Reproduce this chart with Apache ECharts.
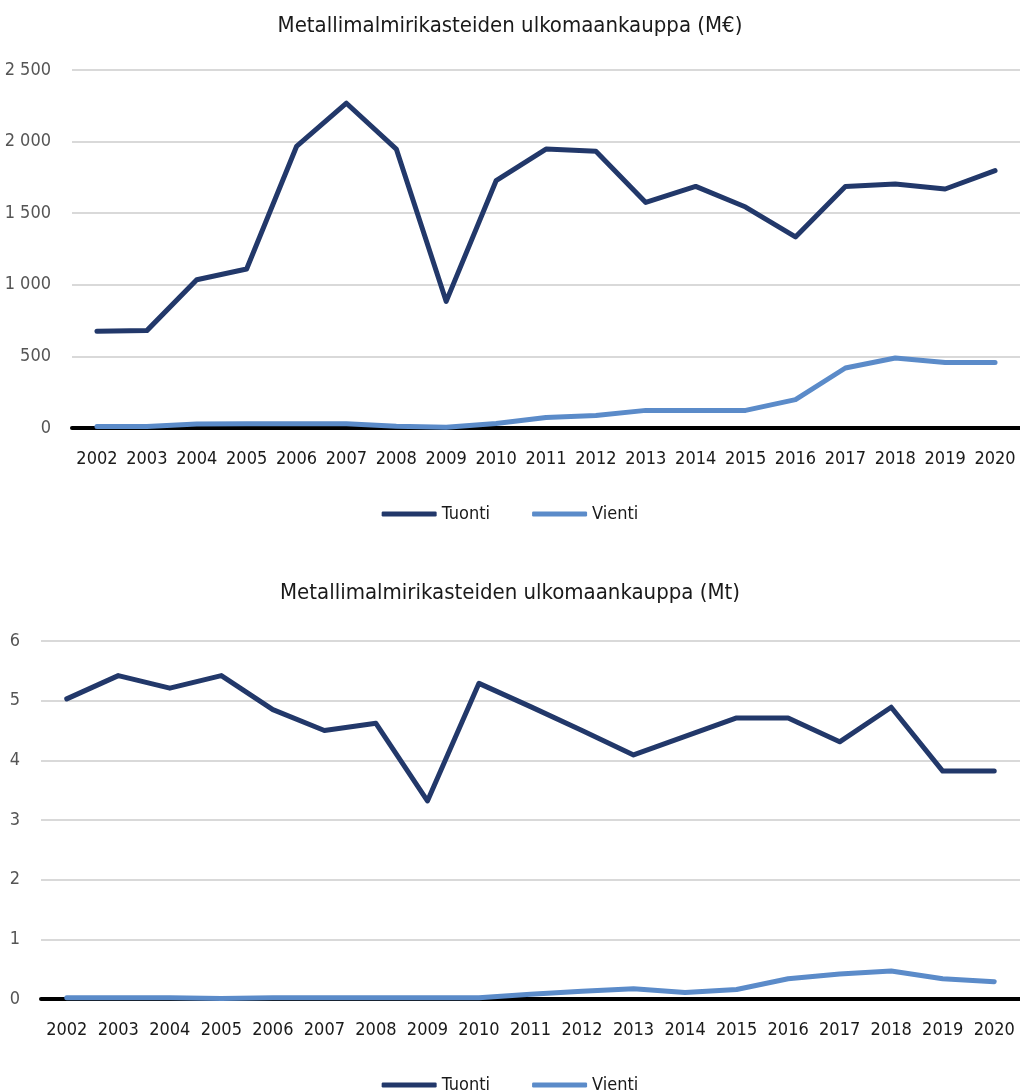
<!DOCTYPE html>
<html>
<head>
<meta charset="utf-8">
<script src="https://cdn.jsdelivr.net/npm/echarts@6/dist/echarts.min.js"></script>
<style>
  html, body { margin: 0; padding: 0; background: #fff; }
  #chart { width: 1020px; height: 1092px; }
</style>
</head>
<body>
<div id="chart"></div>
<script>
// vuodet
const years = ["2002","2003","2004","2005","2006","2007","2008","2009","2010","2011","2012","2013","2014","2015","2016","2017","2018","2019","2020"]

// M€
const tuontiEur = [675, 680, 1035, 1110, 1966, 2268, 1948, 884, 1727, 1948, 1932, 1575, 1687, 1543, 1334, 1687, 1704, 1669, 1797]
const vientiEur = [10, 10, 28, 30, 30, 30, 12, 5, 32, 74, 88, 123, 123, 123, 198, 419, 489, 458, 458]

// Mt
const tuontiMt = [5.03, 5.42, 5.21, 5.42, 4.85, 4.5, 4.62, 3.32, 5.29, 4.9, 4.5, 4.09, 4.4, 4.71, 4.71, 4.31, 4.89, 3.82, 3.82]
const vientiMt = [0.02, 0.02, 0.02, 0.01, 0.02, 0.02, 0.02, 0.02, 0.02, 0.08, 0.13, 0.17, 0.11, 0.16, 0.34, 0.42, 0.47, 0.34, 0.29]

const font = "'DejaVu Sans Condensed', 'Liberation Sans Narrow', sans-serif"
const navy = "#22386a"
const light = "#5b8bc9"

const myChart = echarts.init(document.getElementById("chart"))

function xAxisFor(gridIndex) {
  return {
    type: "category",
    gridIndex: gridIndex,
    data: years,
    boundaryGap: true,
    axisLine: { lineStyle: { color: "#000", width: 4 } },
    axisTick: { show: false },
    axisLabel: { color: "#1a1a1a", fontSize: 18, fontFamily: font, margin: 22, interval: 0 },
  }
}

function yAxisFor(gridIndex, max, interval, fmt) {
  return {
    type: "value",
    gridIndex: gridIndex,
    min: 0,
    max: max,
    interval: interval,
    axisLine: { show: false },
    axisTick: { show: false },
    splitLine: { lineStyle: { color: "#d9d9d9", width: 2 } },
    axisLabel: { color: "#555", fontSize: 18, fontFamily: font, margin: 21, formatter: fmt },
  }
}

function lineSeries(name, data, color, idx) {
  return {
    name: name,
    type: "line",
    data: data,
    xAxisIndex: idx,
    yAxisIndex: idx,
    symbol: "none",
    smooth: false,
    lineStyle: { color: color, width: 5, cap: "round", join: "round" },
    itemStyle: { color: color },
  }
}

const legendBase = {
  data: ["Tuonti", "Vienti"],
  icon: "roundRect",
  itemWidth: 55,
  itemHeight: 5,
  itemGap: 42,
  textStyle: { color: "#1a1a1a", fontSize: 18, fontFamily: font },
}

const option = {
  backgroundColor: "#fff",
  animation: false,
  title: [
    {
      text: "Metallimalmirikasteiden ulkomaankauppa (M€)",
      left: "center",
      top: 10,
      textStyle: { color: "#1a1a1a", fontSize: 22, fontWeight: "normal", fontFamily: font },
    },
    {
      text: "Metallimalmirikasteiden ulkomaankauppa (Mt)",
      left: "center",
      top: 577,
      textStyle: { color: "#1a1a1a", fontSize: 22, fontWeight: "normal", fontFamily: font },
    },
  ],
  legend: [
    Object.assign({}, legendBase, { top: 500, left: "center" }),
    Object.assign({}, legendBase, { top: 1071, left: "center" }),
  ],
  grid: [
    { left: 72, top: 70, width: 951, height: 358 },
    { left: 41, top: 641, width: 983, height: 358 },
  ],
  xAxis: [xAxisFor(0), xAxisFor(1)],
  yAxis: [
    yAxisFor(0, 2500, 500, v => v >= 1000 ? Math.floor(v / 1000) + " " + String(v % 1000).padStart(3, "0") : String(v)),
    yAxisFor(1, 6, 1, v => String(v)),
  ],
  series: [
    lineSeries("Tuonti", tuontiEur, navy, 0),
    lineSeries("Vienti", vientiEur, light, 0),
    lineSeries("Tuonti", tuontiMt, navy, 1),
    lineSeries("Vienti", vientiMt, light, 1),
  ],
}

myChart.setOption(option)
window.addEventListener("resize", () => {
  myChart.resize()
})
</script>
</body>
</html>
